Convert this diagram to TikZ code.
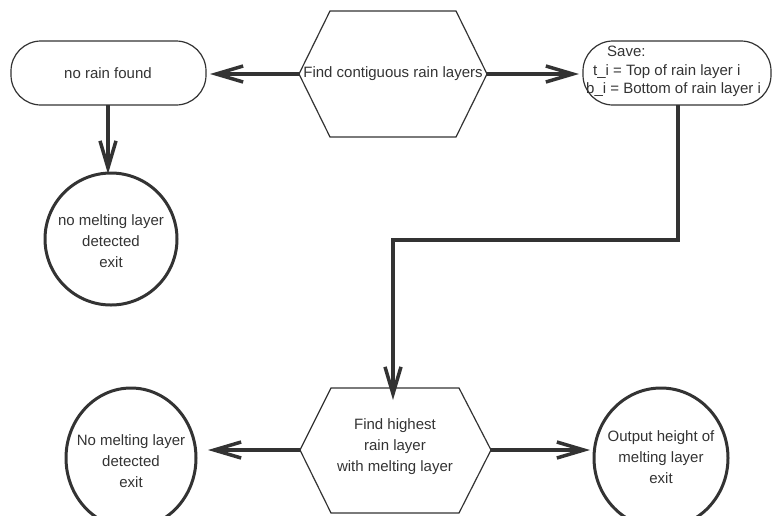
\documentclass[tikz,border=0pt]{standalone}
\usepackage{fontspec}
\setmainfont{Liberation Sans}
\usetikzlibrary{arrows.meta}
\definecolor{ink}{HTML}{333333}
\begin{document}
\begin{tikzpicture}[x=1pt,y=-1pt,
  thinshape/.style={draw=ink,line width=1.2pt},
  thickshape/.style={draw=ink,line width=3pt},
  conn/.style={draw=ink,line width=3.5pt,-{Straight Barb[length=27pt,width=16pt,line width=3.5pt]}},
  txt/.style={text=ink,font=\fontsize{15}{21}\selectfont,align=center,inner sep=0pt}]
\useasboundingbox (0,0) rectangle (773,515);
\begin{scope}
\clip (0,0) rectangle (773,515);
% top hexagon
\draw[thinshape] (299,74) -- (330,11) -- (456,11) -- (487,74) -- (456,137) -- (330,137) -- cycle;
\coordinate (h1l) at (299,74);
\coordinate (h1r) at (487,74);
\node[txt] (h1) at (393,74) {Find contiguous rain layers};
% no rain found
\draw[thinshape,rounded corners=30pt] (11,41) rectangle (206,105);
\node[txt] (nr) at (108,73) {no rain found};
\coordinate (nrr) at (206,74);
\coordinate (nrb) at (108,105);
% save box
\draw[thinshape,rounded corners=30pt] (583,41) rectangle (771,105);
\coordinate (svl) at (583,74);
\coordinate (svb) at (678,105);
\node[txt,anchor=north west,align=left,font=\fontsize{15}{18.5}\selectfont] (sv) at (586,46)
  {\hspace*{21pt}Save:\\\hspace*{7pt}t\_i = Top of rain layer i\\b\_i = Bottom of rain layer i};
% top-left circle
\draw[thickshape] (111,239) circle (66);
\coordinate (c1t) at (108,173);
\node[txt] (c1) at (111,241) {no melting layer\\detected\\exit};
% bottom hexagon
\draw[thinshape] (300,450) -- (331,388) -- (459,388) -- (491,450) -- (459,513) -- (331,513) -- cycle;
\coordinate (h2l) at (300,450);
\coordinate (h2r) at (491,450);
\coordinate (h2t) at (393,388);
\node[txt] (h2) at (395,447) {Find highest\\rain layer\\with melting layer};
% bottom ellipses
\draw[thickshape] (131,458) ellipse [x radius=65, y radius=70];
\node[txt] (e1) at (131,461) {No melting layer\\detected\\exit};
\coordinate (e1r) at (196,450);
\draw[thickshape] (661,458) ellipse [x radius=67, y radius=70];
\node[txt] (e2) at (661,457) {Output height of\\melting layer\\exit};
\coordinate (e2l) at (594,450);
\end{scope}
% connectors
\draw[conn] (h1l) -- ([xshift=4pt]nrr);
\draw[conn] (h1r) -- ([xshift=-4pt]svl);
\draw[conn] (nrb) -- ([yshift=-1pt]c1t);
\coordinate (bend1) at (678,240);
\coordinate (bend2) at (393,240);
\draw[conn] (svb) -- (bend1) -- (bend2) -- ([yshift=-12pt]h2t);
\draw[conn] (h2l) -- ([xshift=12pt]e1r);
\draw[conn] (h2r) -- ([xshift=-4pt]e2l);
\end{tikzpicture}
\end{document}
